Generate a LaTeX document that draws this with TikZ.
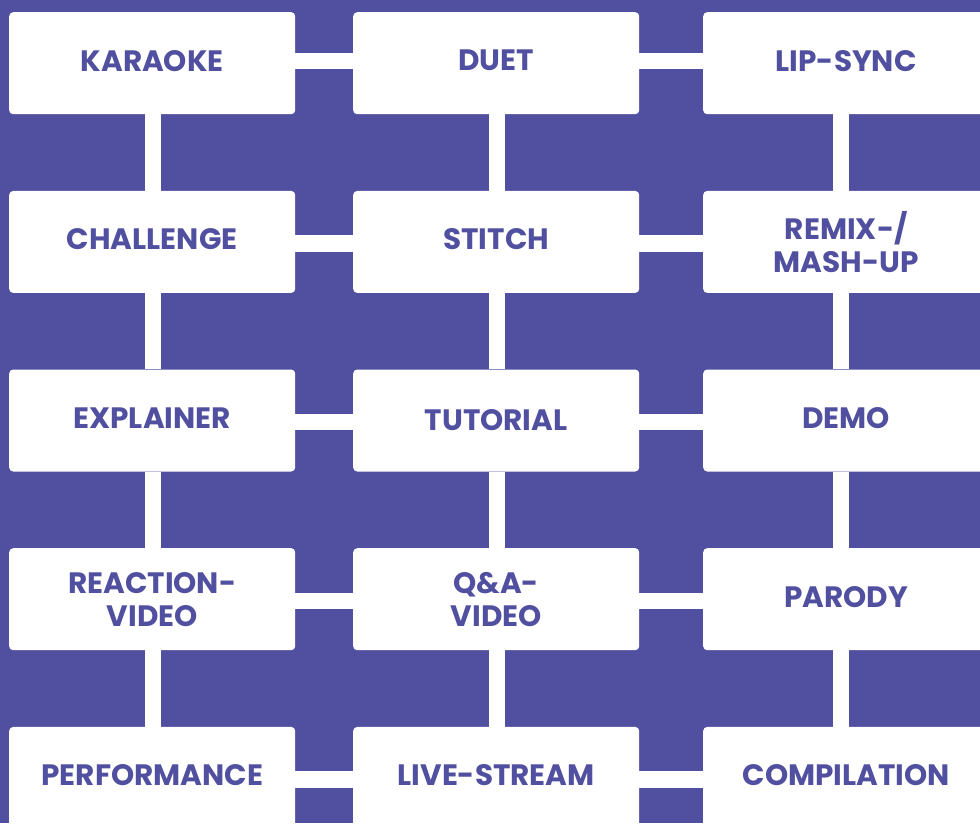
\documentclass[tikz,border=0pt]{standalone}
\usepackage{fontspec}
\setmainfont{Poppins}
\usetikzlibrary{backgrounds}
\definecolor{bgpurple}{HTML}{5150A0}
\tikzset{
  tile/.style={draw=none, fill=white, rounded corners=4pt, minimum width=286pt,
    minimum height=102pt, inner sep=0pt, align=center, anchor=north west,
    text=bgpurple, font=\fontsize{29.5}{33}\selectfont\bfseries},
  link/.style={draw=white, line width=16.3pt, line cap=butt}
}
\newcommand{\oneline}[1]{\raisebox{2.5pt}[\height][\depth]{#1}}
\begin{document}
\begin{tikzpicture}[x=1pt,y=-1pt]
\useasboundingbox (0,0) rectangle (980,823);
% row 1
\node[tile] (a1) at (9,12) {\oneline{KARAOKE}};
\node[tile] (b1) at (353,12) {\oneline{DUET}};
\node[tile] (c1) at (703,12) {\oneline{LIP-SYNC}};
% row 2
\node[tile] (a2) at (9,190.7) {\oneline{CHALLENGE}};
\node[tile] (b2) at (353,190.7) {\oneline{STITCH}};
\node[tile] (c2) at (703,190.7) {REMIX-/\\MASH-UP};
% row 3
\node[tile] (a3) at (9,369.3) {\oneline{EXPLAINER}};
\node[tile] (b3) at (353,369.3) {TUTORIAL};
\node[tile] (c3) at (703,369.3) {\oneline{DEMO}};
% row 4
\node[tile] (a4) at (9,548) {\raisebox{-4pt}[\height][\depth]{\begin{tabular}{@{}c@{}}REACTION-\\VIDEO\end{tabular}}};
\node[tile] (b4) at (353,548) {Q\&A-\\VIDEO};
\node[tile] (c4) at (703,548) {\oneline{PARODY}};
% row 5
\node[tile] (a5) at (9,726.7) {\oneline{PERFORMANCE}};
\node[tile] (b5) at (353,726.7) {\oneline{LIVE-STREAM}};
\node[tile] (c5) at (703,726.7) {\oneline{COMPILATION}};
\begin{scope}[on background layer]
\fill[bgpurple] (0,0) rectangle (980,823);
% horizontal links
\draw[link] ([yshift=2pt]a1.east) -- ([yshift=2pt]b1.west);
\draw[link] ([yshift=2pt]b1.east) -- ([yshift=2pt]c1.west);
\foreach \r in {2,3,4,5}{
  \draw[link] ([yshift=-1.5pt]a\r.east) -- ([yshift=-1.5pt]b\r.west);
  \draw[link] ([yshift=-1.5pt]b\r.east) -- ([yshift=-1.5pt]c\r.west);
}
% vertical links
\foreach \r/\s in {1/2,2/3,3/4,4/5}{
  \draw[link] ([xshift=0.5pt]a\r.south) -- ([xshift=0.5pt]a\s.north);
  \draw[link] ([xshift=1pt]b\r.south) -- ([xshift=1pt]b\s.north);
  \draw[link] ([xshift=-5pt]c\r.south) -- ([xshift=-5pt]c\s.north);
}
\end{scope}
\end{tikzpicture}
\end{document}
